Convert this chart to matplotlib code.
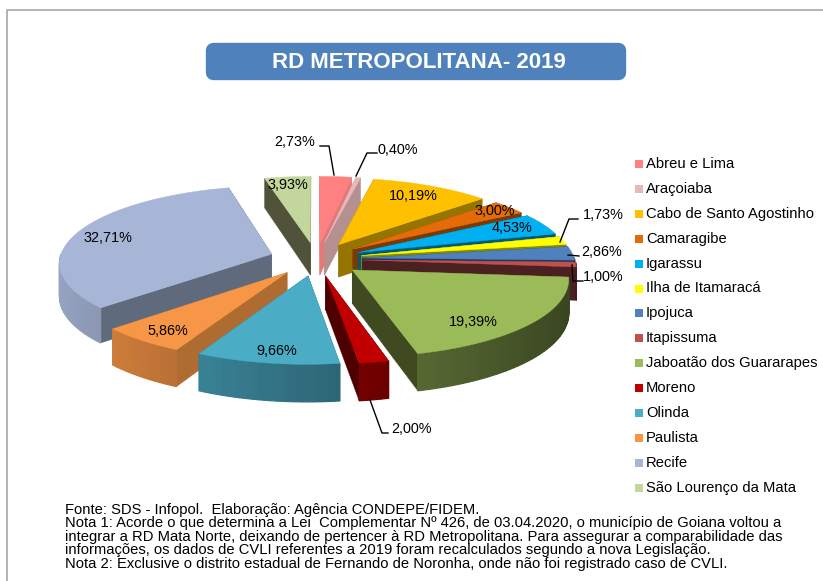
#!/usr/bin/env python3
# -*- coding: utf-8 -*-
import numpy as np
import matplotlib
matplotlib.use('Agg')
import matplotlib.pyplot as plt
from matplotlib.patches import FancyBboxPatch, Polygon, Rectangle

plt.rcParams['font.family'] = ['Liberation Sans', 'DejaVu Sans']

#%% dados

municipios = ['Abreu e Lima', 'Araçoiaba', 'Cabo de Santo Agostinho', 'Camaragibe',
              'Igarassu', 'Ilha de Itamaracá', 'Ipojuca', 'Itapissuma',
              'Jaboatão dos Guararapes', 'Moreno', 'Olinda', 'Paulista',
              'Recife', 'São Lourenço da Mata']
valores = [2.73, 0.40, 10.19, 3.00, 4.53, 1.73, 2.86, 1.00, 19.39, 2.00, 9.66, 5.86, 32.71, 3.93]

cores = ['#FF8080', '#E6B9B8', '#FFC000', '#E36C09', '#00B0F0', '#FFFF00', '#4F81BD',
         '#C0504D', '#9BBB59', '#C00000', '#4BACC6', '#F79646', '#A7B6D7', '#C3D69B']
cores_lado = ['#E87878', '#B59090', '#967400', '#7A3A05', '#005A78', '#8A8A00', '#203A60',
              '#4A2020', '#404A20', '#4E0000', '#2F6C80', '#AE6C30', '#5F6A7D', '#50533A']

notas = ['Fonte: SDS - Infopol.  Elaboração: Agência CONDEPE/FIDEM.',
         'Nota 1: Acorde o que determina a Lei  Complementar Nº 426, de 03.04.2020, o município de Goiana voltou a',
         'integrar a RD Mata Norte, deixando de pertencer à RD Metropolitana. Para assegurar a comparabilidade das',
         'informações, os dados de CVLI referentes a 2019 foram recalculados segundo a nova Legislação.',
         'Nota 2: Exclusive o distrito estadual de Fernando de Noronha, onde não foi registrado caso de CVLI.']

# posicao dos rotulos (px) e linhas de chamada
pos_rotulos = [(295, 142), (398, 150), (413, 196), (495, 211), (512, 228), (603, 215), (602, 252),
               (603, 277), (473, 322), (412, 429), (277, 351), (168, 331), (108, 238), (288, 185)]
chamadas = {0: [(320, 146), (329, 146), (334, 175)],
            1: [(377, 153), (367, 153), (356, 176)],
            5: [(578, 219), (569, 219), (560, 242)],
            6: [(579, 256), (568, 255)],
            7: [(583, 281), (573, 281), (572, 265)],
            9: [(388, 433), (382, 433), (370, 400)]}

#%% geometria da pizza 3D

cx, cy = 316, 259
R, Ry = 212, 76
p = 0.10       # perspectiva
prof = 33      # altura da parede
expl = 0.22


def proj(u, v, baixo=False):
    s = 1 / (1 - p * v)
    return cx + R * u * s, cy + Ry * v * s + (prof * s if baixo else 0)


def escurece(cor, m):
    rgb = np.array(matplotlib.colors.to_rgb(cor))
    return tuple(np.clip(rgb * m, 0, 1))


fig = plt.figure(figsize=(8.23, 5.81), dpi=100)
ax = fig.add_axes([0, 0, 1, 1])
ax.set_xlim(0, 823)
ax.set_ylim(581, 0)
ax.axis('off')

# moldura
ax.plot([7.5, 7.5, 823], [581, 9.5, 9.5], color='#A6A6A6', lw=1.2)

# titulo
ax.add_patch(FancyBboxPatch((210, 47), 412, 29, boxstyle='round,pad=0,rounding_size=4',
                            mutation_aspect=1, fc='#4F81BD', ec='#4F81BD', lw=6))
ax.text(419, 62, 'RD METROPOLITANA- 2019', color='white', fontsize=16, fontweight='bold',
        ha='center', va='center')

#%% fatias

total = sum(valores)
acum = np.cumsum([0] + valores) / total * 2 * np.pi
fatias = []
for i in range(len(valores)):
    t0, t1 = acum[i], acum[i + 1]
    fatias.append((np.cos((t0 + t1) / 2), i, t0, t1))
# de tras para frente
fatias.sort(key=lambda f: -f[0])

for _, i, t0, t1 in fatias:
    meio = (t0 + t1) / 2
    du, dv = expl * np.sin(meio), -expl * np.cos(meio)
    th = np.linspace(t0, t1, max(3, int((t1 - t0) * 40)))
    us, vs = du + np.sin(th), dv - np.cos(th)

    # paredes radiais
    for u1, v1 in [(us[0], vs[0]), (us[-1], vs[-1])]:
        ax.add_patch(Polygon([proj(du, dv), proj(u1, v1), proj(u1, v1, True), proj(du, dv, True)],
                             fc=cores_lado[i], ec=cores_lado[i], lw=0.3))
    # parede externa com gradiente, so a metade da frente aparece
    for k in range(len(th) - 1):
        tm = (th[k] + th[k + 1]) / 2
        if np.cos(tm) > 0:
            continue
        c = escurece(cores[i], 0.63 - 0.27 * np.sin(tm))
        ax.add_patch(Polygon([proj(us[k], vs[k]), proj(us[k + 1], vs[k + 1]),
                              proj(us[k + 1], vs[k + 1], True), proj(us[k], vs[k], True)],
                             fc=c, ec=c, lw=0.9))
    # topo
    topo = [proj(du, dv)] + [proj(a, b) for a, b in zip(us, vs)]
    ax.add_patch(Polygon(topo, fc=cores[i], ec=cores[i], lw=0.3))

#%% rotulos

for i, v in enumerate(valores):
    txt = f'{v:.2f}'.replace('.', ',') + '%'
    ax.text(pos_rotulos[i][0], pos_rotulos[i][1], txt, fontsize=10.4, color='black',
            ha='center', va='center')

for pts in chamadas.values():
    ax.plot([a[0] for a in pts], [a[1] for a in pts], color='black', lw=1)

#%% legenda

y_leg = 164
for i, nome in enumerate(municipios):
    ax.add_patch(Rectangle((635, y_leg - 4), 8, 8, fc=cores[i], ec='none'))
    ax.text(646, y_leg, nome, fontsize=10.6, color='black', va='center')
    y_leg += 24.9

#%% notas

for i, linha in enumerate(notas):
    ax.text(65, 510 + i * 13.4, linha, fontsize=10.6, color='black', va='center')

fig.savefig('out.png', dpi=100)
